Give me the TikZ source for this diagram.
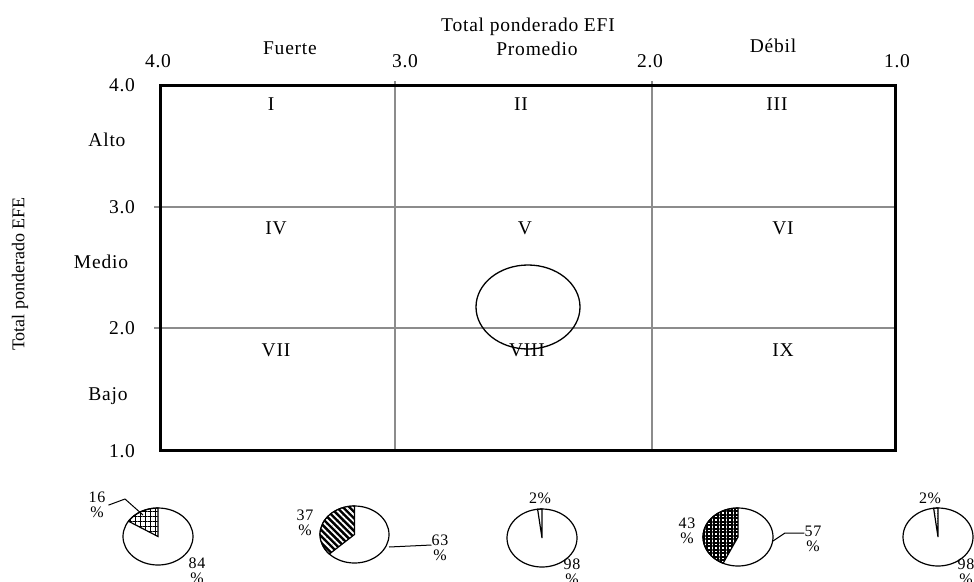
\documentclass[tikz,border=0pt]{standalone}
\usepackage{fontspec}
\setmainfont{Liberation Serif}
\newfontfamily\spaced[LetterSpace=4]{Liberation Serif}
\usetikzlibrary{shapes.geometric,patterns.meta}
\definecolor{gridcol}{HTML}{8C8C8C}

\begin{document}
\begin{tikzpicture}[
  x=1pt, y=1pt,
  font=\spaced\fontsize{19.5}{21}\selectfont,
  lbl/.style={anchor=base, inner sep=0pt},
  zone/.style={anchor=base, inner sep=0pt},
  pct/.style={anchor=north, inner sep=0pt, align=center,
    font=\spaced\fontsize{16}{15}\selectfont},
  frame/.style={draw=black, line width=3pt},
  gridline/.style={draw=gridcol, line width=1.5pt},
  pie/.style={draw=black, line width=1.2pt, fill=white},
  slice/.style={draw=black, line width=1.2pt},
  leader/.style={draw=black, line width=1pt},
]
\useasboundingbox (0,0) rectangle (974,-581);

% ============================================================
% MATRIX: grid, frame and position
% ============================================================
\coordinate (nw) at (160,-85);
\coordinate (se) at (895,-450);

\draw[gridline] (154,-207) -- (895,-207);
\draw[gridline] (154,-328) -- (895,-328);
\draw[gridline] (395,-81) -- (395,-450);
\draw[gridline] (652,-81) -- (652,-450);
\draw[frame] (nw) rectangle (se);

\node[draw, ellipse, line width=1.3pt, minimum width=104pt, minimum height=84pt,
      inner sep=0pt] (pos) at (528,-307) {};

% Quadrants
\node[zone] (q1) at (271,-110) {I};
\node[zone] (q2) at (521,-110) {II};
\node[zone] (q3) at (777,-110) {III};
\node[zone] (q4) at (276,-234) {IV};
\node[zone] (q5) at (525,-234) {V};
\node[zone] (q6) at (783,-234) {VI};
\node[zone] (q7) at (276,-356) {VII};
\node[zone] (q8) at (527,-356) {VIII};
\node[zone] (q9) at (783,-356) {IX};

% ============================================================
% AXES: EFI on top, EFE on the left
% ============================================================
\node[lbl] (efi) at (528,-31) {Total ponderado EFI};
\node[lbl] (fuerte) at (290,-54) {Fuerte};
\node[lbl] (promedio) at (537,-55) {Promedio};
\node[lbl] (debil) at (773,-52) {Débil};

\node[lbl] (x4) at (158,-67) {4.0};
\node[lbl] (x3) at (405,-67) {3.0};
\node[lbl] (x2) at (650,-67) {2.0};
\node[lbl] (x1) at (897,-67) {1.0};

\node[lbl] (y4) at (122,-91) {4.0};
\node[lbl] (y3) at (122,-213) {3.0};
\node[lbl] (y2) at (122,-334) {2.0};
\node[lbl] (y1) at (122,-457) {1.0};

\node[lbl] (alto) at (107,-146) {Alto};
\node[lbl] (medio) at (101,-268) {Medio};
\node[lbl] (bajo) at (108,-400) {Bajo};

\node[rotate=90, inner sep=0pt, font=\rmfamily\fontsize{18}{20}\selectfont]
  (efe) at (20,-274) {Total ponderado EFE};

% ============================================================
% PIES below the matrix
% ============================================================

% --- Pie 1: 16 / 84 ---
\coordinate (p1) at (158,-536.5);
\draw[pie] (p1) ellipse [x radius=35pt, y radius=28.5pt];
\path[slice, pattern={Hatch[angle=0,distance=5pt,line width=0.8pt]}]
  (p1) -- ++(90:35pt and 28.5pt)
  arc[start angle=90, end angle=147.6, x radius=35pt, y radius=28.5pt] -- cycle;
\node[pct] (pct16) at (97,-492) {16\\\%};
\node[pct] (pct84) at (197,-558) {84\\\%};
\coordinate (k1) at (125,-499);
\coordinate (l1) at (143,-515);
\draw[leader] ([xshift=3pt]pct16.east) -- (k1) -- (l1);

% --- Pie 2: 37 / 63 ---
\coordinate (p2) at (354.5,-534.5);
\draw[pie] (p2) ellipse [x radius=34.5pt, y radius=28.5pt];
\path[slice, preaction={fill=black},
      pattern={Lines[angle=-45,distance=4.5pt,line width=1.8pt]}, pattern color=white]
  (p2) -- ++(90:34.5pt and 28.5pt)
  arc[start angle=90, end angle=223.2, x radius=34.5pt, y radius=28.5pt] -- cycle;
\node[pct] (pct37) at (305,-510) {37\\\%};
\node[pct] (pct63) at (440,-535) {63\\\%};
\coordinate (e2) at (389,-547);
\draw[leader] (e2) -- (pct63.west |- 0,-545);

% --- Pie 3: 2 / 98 ---
\coordinate (p3) at (542,-538);
\draw[pie] (p3) ellipse [x radius=35pt, y radius=29pt];
\path[slice]
  (p3) -- ++(90:35pt and 29pt)
  arc[start angle=90, end angle=97.2, x radius=35pt, y radius=29pt] -- cycle;
\node[pct] (pct2a) at (540,-493) {2\%};
\node[pct] (pct98a) at (572,-559) {98\\\%};

% --- Pie 4: 43 / 57 ---
\coordinate (p4) at (738,-537);
\draw[pie] (p4) ellipse [x radius=35pt, y radius=29pt];
\path[slice, pattern={Hatch[angle=0,distance=3.5pt,line width=2pt]}]
  (p4) -- ++(90:35pt and 29pt)
  arc[start angle=90, end angle=244.8, x radius=35pt, y radius=29pt] -- cycle;
\node[pct] (pct43) at (687,-518) {43\\\%};
\node[pct] (pct57) at (813,-526) {57\\\%};
\coordinate (e4) at (773,-541);
\coordinate (k4) at (785,-533);
\draw[leader] (e4) -- (k4) -- (pct57.west |- k4);

% --- Pie 5: 2 / 98 ---
\coordinate (p5) at (938,-537);
\draw[pie] (p5) ellipse [x radius=35pt, y radius=29pt];
\path[slice, pattern={Dots[distance=2.5pt,radius=0.4pt]}]
  (p5) -- ++(90:35pt and 29pt)
  arc[start angle=90, end angle=97.2, x radius=35pt, y radius=29pt] -- cycle;
\node[pct] (pct2b) at (930,-493) {2\%};
\node[pct] (pct98b) at (966,-559) {98\\\%};

\end{tikzpicture}
\end{document}
